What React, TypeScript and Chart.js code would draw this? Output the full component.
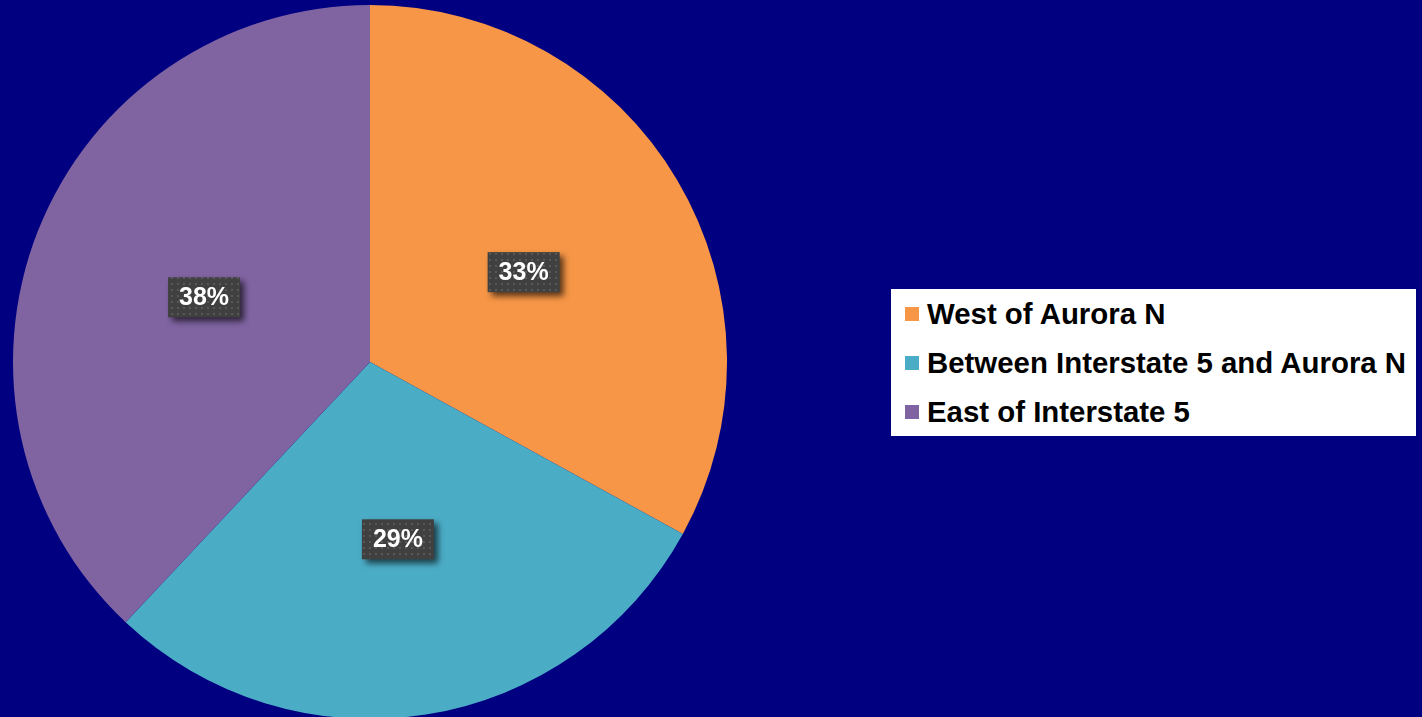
import React, { useEffect, useRef } from "react";
import { Chart, registerables } from "chart.js";

Chart.register(...registerables);

// Share of locations by area
const areaLabels = ["West of Aurora N", "Between Interstate 5 and Aurora N", "East of Interstate 5"];
const areaShares = [33, 29, 38];
const areaColors = ["#F79646", "#4BACC6", "#8064A2"];

const PAGE_BG = "#000080";
const FONT = '"Liberation Sans", Arial, Helvetica, sans-serif';

// Dark dotted fill used behind the percentage labels
function makeDotPattern(ctx: CanvasRenderingContext2D): CanvasPattern | string {
  const tile = document.createElement("canvas");
  tile.width = 6;
  tile.height = 6;
  const t = tile.getContext("2d");
  if (!t) return "#404040";
  t.fillStyle = "#404040";
  t.fillRect(0, 0, 6, 6);
  t.fillStyle = "#585858";
  t.fillRect(2, 2, 2, 2);
  return ctx.createPattern(tile, "repeat") || "#404040";
}

const percentLabels = {
  id: "percentLabels",
  afterDatasetsDraw(chart: any) {
    const ctx: CanvasRenderingContext2D = chart.ctx;
    const meta = chart.getDatasetMeta(0);
    const values: number[] = chart.data.datasets[0].data;
    const total = values.reduce((a, b) => a + b, 0);
    const fill = makeDotPattern(ctx);
    const boxW = 72;
    const boxH = 40;
    meta.data.forEach((arc: any, i: number) => {
      const pos = arc.tooltipPosition();
      const text = Math.round((values[i] / total) * 100) + "%";
      ctx.save();
      ctx.shadowColor = "rgba(0,0,0,0.65)";
      ctx.shadowBlur = 6;
      ctx.shadowOffsetX = 4;
      ctx.shadowOffsetY = 4;
      ctx.fillStyle = fill as any;
      ctx.fillRect(pos.x - boxW / 2, pos.y - boxH / 2 + 1, boxW, boxH);
      ctx.restore();
      ctx.save();
      ctx.fillStyle = "#FFFFFF";
      ctx.font = `bold 25px ${FONT}`;
      ctx.textAlign = "center";
      ctx.textBaseline = "middle";
      ctx.fillText(text, pos.x, pos.y + 2);
      ctx.restore();
    });
  },
};

export default function App() {
  const canvasRef = useRef<HTMLCanvasElement | null>(null);

  useEffect(() => {
    if (!canvasRef.current) return;
    const chart = new Chart(canvasRef.current, {
      type: "pie",
      data: {
        labels: areaLabels,
        datasets: [
          {
            data: areaShares,
            backgroundColor: areaColors,
            borderWidth: 0,
          },
        ],
      },
      options: {
        animation: false,
        responsive: false,
        maintainAspectRatio: false,
        devicePixelRatio: 1,
        layout: { padding: 0 },
        plugins: {
          legend: { display: false },
          tooltip: { enabled: false },
        },
      },
      plugins: [percentLabels],
    });
    return () => chart.destroy();
  }, []);

  return (
    <div
      style={{
        position: "fixed",
        left: 0,
        top: 0,
        width: 1422,
        height: 717,
        background: PAGE_BG,
        overflow: "hidden",
      }}
    >
      <canvas
        ref={canvasRef}
        width={714}
        height={714}
        style={{ position: "absolute", left: 13, top: 5, width: 714, height: 714 }}
      />
      <div
        style={{
          position: "absolute",
          left: 891,
          top: 289,
          width: 525,
          height: 147,
          background: "#FFFFFF",
          fontFamily: FONT,
          fontWeight: "bold",
          fontSize: 29.4,
          color: "#000000",
        }}
      >
        {areaLabels.map((label, i) => (
          <div
            key={label}
            style={{
              position: "relative",
              height: 49,
              lineHeight: "49px",
              paddingLeft: 36,
              whiteSpace: "nowrap",
            }}
          >
            <span
              style={{
                position: "absolute",
                left: 14,
                top: 18,
                width: 14,
                height: 14,
                background: areaColors[i],
              }}
            />
            {label}
          </div>
        ))}
      </div>
    </div>
  );
}
